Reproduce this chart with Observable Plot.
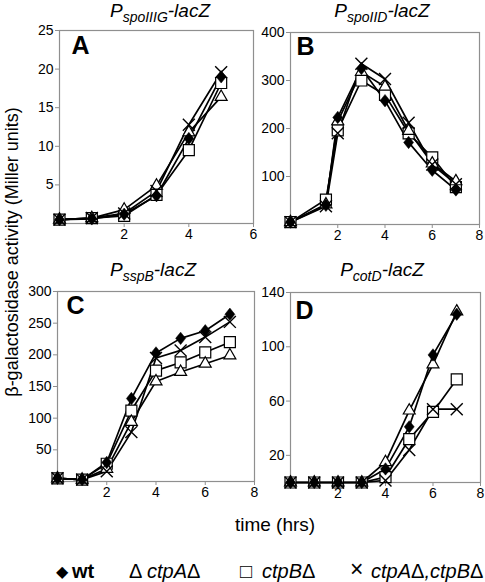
<!DOCTYPE html>
<html><head><meta charset="utf-8">
<script src="https://cdn.jsdelivr.net/npm/d3@7"></script>
<script src="https://cdn.jsdelivr.net/npm/@observablehq/plot@0.6"></script>
<style>
body{margin:0;background:#fff;font-family:"Liberation Sans",Arial,sans-serif;color:#000;}
#c{position:relative;width:485px;height:582px;overflow:hidden;background:#fff;}
.abs{position:absolute;white-space:nowrap;line-height:1;}
.title{font-size:19px;font-style:italic;transform:translateX(-50%);}
.title sub{font-size:14px;vertical-align:-5px;line-height:0;}
.lg{font-size:20px;}
.lg i span{font-style:normal;}
</style></head><body><div id="c"></div>
<script>
// ---- data ----
const seriesNames = ["wt", "ctpAΔ", "ctpBΔ", "ctpAΔ,ctpBΔ"];

const hoursA = [0, 1, 2, 3, 4, 5];
const wtA    = [0.5, 0.6, 1.2, 3.6, 11.0, 19.0];
const ctpA_A = [0.5, 0.7, 1.8, 4.9, 11.8, 16.4];
const ctpB_A = [0.5, 0.7, 1.0, 3.7, 9.5, 18.2];
const dbl_A  = [0.5, 0.7, 1.3, 4.2, 12.8, 19.6];

const hoursB = [0, 1.5, 2, 3, 4, 5, 6, 7];
const wtB    = [5, 40, 223, 325, 258, 171, 113, 72];
const ctpA_B = [5, 42, 215, 318, 287, 195, 127, 90];
const ctpB_B = [5, 52, 196, 300, 270, 190, 140, 78];
const dbl_B  = [5, 38, 190, 335, 303, 212, 125, 84];

const hoursC = [0, 1, 2, 3, 4, 5, 6, 7];
const wtC    = [5, 3, 30, 131, 203, 226, 238, 264];
const ctpA_C = [5, 3, 20, 94, 158, 173, 186, 199];
const ctpB_C = [5, 3, 28, 112, 175, 188, 204, 220];
const dbl_C  = [5, 3, 16, 78, 195, 207, 228, 252];

const hoursD = [0, 1, 2, 3, 4, 5, 6, 7];
const wtD    = [0, 0, 0, 0, 10, 41, 94, 124];
const ctpA_D = [0, 0, 0, 0, 15, 53, 87, 126];
const ctpB_D = [0, 0, 0, 0, 4, 32, 52, 76];
const dbl_D  = [0, 0, 0, 0, 1.5, 24, 54, 54];

const yTicksA = [5, 10, 15, 20, 25];
const yTicksB = [100, 200, 300, 400];
const yTicksC = [50, 100, 150, 200, 250, 300];
const yTicksD = [20, 60, 100, 140];
const xTicksA = [2, 4, 6];
const xTicksBCD = [2, 4, 6, 8];

// ---- drawing ----
const root = document.getElementById("c");
const FONT = '"Liberation Sans", Arial, sans-serif';
const GRAY = "#8f8f8f";

const diamondSym = {
  draw(ctx, size) {
    const s = Math.sqrt(size);
    const hy = s * 0.9, hx = s * 0.72;
    ctx.moveTo(0, -hy); ctx.lineTo(hx, 0); ctx.lineTo(0, hy); ctx.lineTo(-hx, 0); ctx.closePath();
  }
};

function panel({hours, series, xMax, yDomain, yTicks, xTicks, frame, letter, ldx, ldy}) {
  const [x0, y0, x1, y1] = frame;
  const mL = 40, mT = 12, mR = 8, mB = 26;
  const data = [];
  seriesNames.forEach((name, i) => hours.forEach((h, j) => data.push({series: name, hour: h, value: series[i][j]})));
  const sel = n => data.filter(d => d.series === n);
  const chart = Plot.plot({
    width: (x1 - x0) + mL + mR,
    height: (y1 - y0) + mT + mB,
    marginLeft: mL, marginTop: mT, marginRight: mR, marginBottom: mB,
    style: {fontFamily: FONT, fontSize: "14px", background: "transparent", overflow: "visible", color: "black"},
    x: {domain: [0, xMax]},
    y: {domain: yDomain},
    marks: [
      Plot.frame({stroke: GRAY, strokeWidth: 1.2}),
      Plot.axisX({ticks: xTicks, tickFormat: d => String(d), tickSize: 4, tickPadding: 2, stroke: GRAY, fill: "black", label: null, fontSize: 14}),
      Plot.axisY({ticks: yTicks, tickFormat: d => String(d), tickSize: 4, tickPadding: 2, stroke: GRAY, fill: "black", label: null, fontSize: 14}),
      Plot.text([letter], {frameAnchor: "top-left", text: d => d, dx: ldx, dy: ldy, fontSize: 25, fontWeight: "bold", fill: "black", lineAnchor: "top"}),
      Plot.line(data, {x: "hour", y: "value", z: "series", stroke: "black", strokeWidth: 1.7}),
      Plot.dot(sel(seriesNames[2]), {x: "hour", y: "value", symbol: "square2", r: 7, fill: "white", stroke: "black", strokeWidth: 1.2}),
      Plot.dot(sel(seriesNames[1]), {x: "hour", y: "value", symbol: "triangle2", r: 5.7, fill: "white", stroke: "black", strokeWidth: 1.2}),
      Plot.dot(sel(seriesNames[0]), {x: "hour", y: "value", symbol: diamondSym, r: 3.9, fill: "black", stroke: "black", strokeWidth: 0.5}),
      Plot.dot(sel(seriesNames[3]), {x: "hour", y: "value", symbol: "times", r: 5.5, fill: "none", stroke: "black", strokeWidth: 1.4})
    ]
  });
  chart.style.position = "absolute";
  chart.style.left = (x0 - mL) + "px";
  chart.style.top = (y0 - mT) + "px";
  root.appendChild(chart);
}

panel({hours: hoursA, series: [wtA, ctpA_A, ctpB_A, dbl_A], xMax: 6, yDomain: [0, 25], yTicks: yTicksA, xTicks: xTicksA,
  frame: [59, 30, 253, 223], letter: "A", ldx: 12, ldy: 6});
panel({hours: hoursB, series: [wtB, ctpA_B, ctpB_B, dbl_B], xMax: 8, yDomain: [0, 400], yTicks: yTicksB, xTicks: xTicksBCD,
  frame: [290, 32, 479, 224], letter: "B", ldx: 6, ldy: 5});
panel({hours: hoursC, series: [wtC, ctpA_C, ctpB_C, dbl_C], xMax: 8, yDomain: [0, 300], yTicks: yTicksC, xTicks: xTicksBCD,
  frame: [57, 291, 254, 481], letter: "C", ldx: 9, ldy: 5});
panel({hours: hoursD, series: [wtD, ctpA_D, ctpB_D, dbl_D], xMax: 8, yDomain: [0, 140], yTicks: yTicksD, xTicks: xTicksBCD,
  frame: [290, 292, 480, 482], letter: "D", ldx: 5, ldy: 9});

function addHTML(html, cls, left, top, extra) {
  const d = document.createElement("div");
  d.className = "abs " + cls;
  d.innerHTML = html;
  d.style.left = left + "px";
  d.style.top = top + "px";
  if (extra) Object.assign(d.style, extra);
  root.appendChild(d);
  return d;
}

// panel titles
addHTML("P<sub>spoIIIG</sub>-lacZ", "title", 160, 1);
addHTML("P<sub>spoIID</sub>-lacZ", "title", 382, 1);
addHTML("P<sub>sspB</sub>-lacZ", "title", 153, 260);
addHTML("P<sub>cotD</sub>-lacZ", "title", 382, 260);

// axis titles
addHTML("β-galactosidase activity (Miller units)", "", 12, 252,
  {fontSize: "18px", transform: "translate(-50%,-50%) rotate(-90deg)"});
addHTML("time (hrs)", "", 275, 515, {fontSize: "19px", transform: "translateX(-50%)"});

// legend
addHTML("◆", "lg", 56, 564, {fontSize: "16px"});
addHTML("<b>wt</b>", "lg", 72, 561);
addHTML("Δ", "lg", 129, 561);
addHTML("<i>ctpA<span>Δ</span></i>", "lg", 147, 561);
addHTML("□", "lg", 240, 561);
addHTML("<i>ctpB<span>Δ</span></i>", "lg", 262, 561);
addHTML("×", "lg", 350, 558, {fontSize: "23px"});
addHTML("<i>ctpA<span>Δ</span>,ctpB<span>Δ</span></i>", "lg", 371, 561);
</script>
</body></html>
